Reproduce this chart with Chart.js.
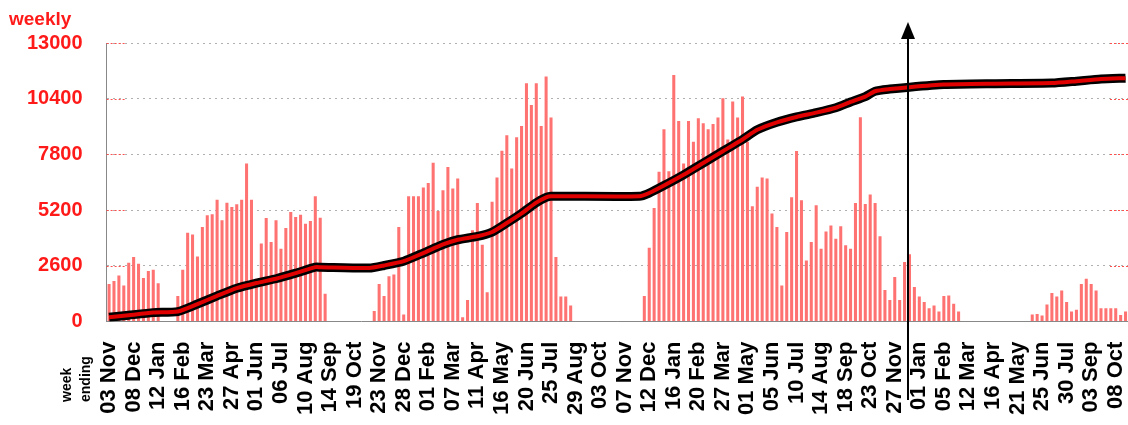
<!DOCTYPE html>
<html>
<head>
<meta charset="utf-8">
<script src="https://cdn.jsdelivr.net/npm/chart.js@4.4.1/dist/chart.umd.min.js"></script>
<style>
  html, body { margin: 0; padding: 0; background: #fff; }
  #wrap { width: 1128px; height: 425px; position: relative; }
</style>
</head>
<body>
<div id="wrap"><canvas id="chart"></canvas></div>
<script>
// one label every 5 weeks, first week ends 03 Nov
const tickLabels = [
  "03 Nov", "08 Dec", "12 Jan", "16 Feb", "23 Mar", "27 Apr", "01 Jun", "06 Jul",
  "10 Aug", "14 Sep", "19 Oct", "23 Nov", "28 Dec", "01 Feb", "07 Mar", "11 Apr",
  "16 May", "20 Jun", "25 Jul", "29 Aug", "03 Oct", "07 Nov", "12 Dec", "16 Jan",
  "20 Feb", "27 Mar", "01 May", "05 Jun", "10 Jul", "14 Aug", "18 Sep", "23 Oct",
  "27 Nov", "01 Jan", "05 Feb", "12 Mar", "16 Apr", "21 May", "25 Jun", "30 Jul",
  "03 Sep", "08 Oct"
];

// weekly values, one per week (208 weeks)
const weeklyCounts = [
  1760, 1890, 2150, 1690, 2750, 3010, 2700, 2040, 2360, 2420, 1790,
  0, 0, 0,
  1190, 2420, 4150, 4060, 3040, 4420, 4960, 5010, 5690, 4730, 5550, 5350, 5480, 5690,
  7380, 5690, 2000, 3640, 4840, 3710, 4730, 3400, 4370, 5120, 4880, 4990, 4570, 4700,
  5850, 4850, 1300,
  0, 0, 0, 0, 0, 0, 0, 0, 0,
  500, 1760, 1190, 2120, 2200, 4420, 330, 5850, 5850, 5850, 6260, 6470, 7410, 5160,
  6130, 7220, 6210, 6680, 200, 1010, 4260, 5540, 3590, 1370, 5590, 6720, 7970, 8690,
  7150, 8600, 9130, 11120, 10110, 11120, 9130, 11440, 9520, 3010, 1170, 1170, 750,
  0, 0, 0, 0, 0, 0, 0, 0, 0, 0, 0, 0, 0, 0,
  1190, 3450, 5300, 6990, 8970, 7020, 11510, 9360, 7380, 9360, 8390, 9490, 9250, 8970,
  9220, 9520, 10420, 8500, 10270, 9520, 10500, 8390, 5380, 6290, 6720, 6680, 5040, 4420,
  1690, 4180, 5800, 7960, 5660, 2850, 3710, 5430, 3400, 4210, 4490, 3870, 4450, 3560,
  3400, 5540, 9530, 5490, 5930,
  5540, 3980, 1480, 1010, 2080, 1010, 2780, 3140, 1610, 1170, 910, 620, 750, 470,
  1190, 1220, 830, 470,
  0, 0, 0, 0, 0, 0, 0, 0, 0, 0, 0, 0, 0, 0,
  330, 360, 280, 800, 1330, 1170, 1450, 910, 470, 550, 1760, 2000, 1760, 1450,
  620, 620, 620, 620, 310, 470
];

// cumulative line, read at these week numbers (shown on the same 0-13000 frame)
const cumulativeWeeks = [
  0, 4, 9, 14, 18, 22, 26, 30, 34, 38, 42, 43, 53, 56, 60, 64, 68, 71, 75, 78,
  81, 84, 87, 89, 90, 108, 110, 113, 117, 121, 125, 129, 132, 136, 140, 144, 148,
  151, 154, 156, 159, 163, 170, 180, 192, 197, 202, 207
];
const cumulativeValues = [
  200, 300, 420, 470, 820, 1200, 1560, 1800, 2000, 2260, 2540, 2540, 2500, 2620,
  2820, 3200, 3600, 3820, 3980, 4180, 4600, 5050, 5550, 5800, 5850, 5850, 6000,
  6350, 6850, 7400, 7950, 8500, 8950, 9300, 9550, 9750, 9980, 10250, 10500, 10750,
  10850, 10940, 11060, 11100, 11130, 11220, 11320, 11360
];

// week where the arrow is drawn
const markerWeek = 162.6;

const weekLabels = weeklyCounts.map((v, i) => (i % 5 === 0 ? tickLabels[i / 5] || "" : ""));
const cumulative = weeklyCounts.map(() => null);
cumulativeWeeks.forEach((w, k) => { cumulative[w] = cumulativeValues[k]; });

const FONT = "'Liberation Sans', Arial, Helvetica, sans-serif";

const extras = {
  id: "extras",
  beforeDatasetsDraw(chart) {
    const { ctx, chartArea, scales } = chart;
    ctx.save();
    ctx.strokeStyle = "#ff5050";
    ctx.lineWidth = 1;
    ctx.setLineDash([2, 2]);
    scales.y.ticks.forEach((t) => {
      if (t.value === 0) return;
      const y = Math.round(scales.y.getPixelForValue(t.value)) + 0.5;
      ctx.beginPath();
      ctx.moveTo(chartArea.left, y);
      ctx.lineTo(chartArea.left + 18, y);
      ctx.moveTo(chartArea.right - 18, y);
      ctx.lineTo(chartArea.right, y);
      ctx.stroke();
    });
    ctx.restore();
  },
  afterDraw(chart) {
    const { ctx, scales } = chart;
    ctx.save();
    // "weekly" unit label
    ctx.fillStyle = "#ff1a1a";
    ctx.font = "bold 19px " + FONT;
    ctx.textBaseline = "alphabetic";
    ctx.fillText("weekly", 9, 25);

    // "week ending" rotated caption
    ctx.fillStyle = "#000";
    ctx.font = "bold 14px " + FONT;
    ctx.textAlign = "left";
    [["week", 71], ["ending", 90]].forEach(([txt, x]) => {
      ctx.save();
      ctx.translate(x, 402);
      ctx.rotate(-Math.PI / 2);
      ctx.fillText(txt, 0, 0);
      ctx.restore();
    });

    // arrow
    const w0 = Math.floor(markerWeek);
    const p0 = scales.x.getPixelForValue(w0);
    const p1 = scales.x.getPixelForValue(w0 + 1);
    const ax = Math.round(p0 + (p1 - p0) * (markerWeek - w0));
    ctx.strokeStyle = "#000";
    ctx.lineWidth = 2;
    ctx.beginPath();
    ctx.moveTo(ax, 36);
    ctx.lineTo(ax, 400);
    ctx.stroke();
    ctx.fillStyle = "#000";
    ctx.beginPath();
    ctx.moveTo(ax, 22);
    ctx.lineTo(ax - 7, 39);
    ctx.lineTo(ax + 7, 39);
    ctx.closePath();
    ctx.fill();
    ctx.restore();
  }
};

new Chart(document.getElementById("chart"), {
  type: "bar",
  data: {
    labels: weekLabels,
    datasets: [
      {
        label: "weekly",
        data: weeklyCounts,
        backgroundColor: "#ff7272",
        borderWidth: 0,
        barPercentage: 0.62,
        categoryPercentage: 1.0,
        order: 3
      },
      {
        type: "line",
        label: "cumulative outline",
        data: cumulative,
        yAxisID: "y2",
        borderColor: "#000",
        borderWidth: 9,
        pointRadius: 0,
        spanGaps: true,
        tension: 0.2,
        order: 2
      },
      {
        type: "line",
        label: "cumulative",
        data: cumulative,
        yAxisID: "y2",
        borderColor: "#e00000",
        borderWidth: 4,
        pointRadius: 0,
        spanGaps: true,
        tension: 0.2,
        order: 1
      }
    ]
  },
  options: {
    responsive: true,
    maintainAspectRatio: false,
    animation: false,
    layout: { padding: { left: 3, top: 43, right: 0, bottom: -2 } },
    plugins: {
      legend: { display: false },
      tooltip: { enabled: false }
    },
    scales: {
      x: {
        offset: true,
        grid: { display: false },
        border: { display: true, color: "#888", width: 1 },
        afterFit(scale) {
          scale.paddingLeft = 0;
          scale.paddingRight = 0;
        },
        ticks: {
          autoSkip: false,
          maxRotation: 90,
          minRotation: 90,
          padding: 12,
          color: "#000",
          font: { family: FONT, size: 22, weight: "bold" }
        }
      },
      y: {
        min: 0,
        max: 13000,
        ticks: {
          stepSize: 2600,
          padding: 24,
          color: "#ff1a1a",
          font: { family: FONT, size: 20, weight: "bold" },
          callback: (v) => String(v)
        },
        grid: { color: "#b0b0b0", lineWidth: 1, drawTicks: false },
        border: { display: true, color: "#888", width: 1, dash: [2, 4] }
      },
      y2: {
        display: false,
        min: 0,
        max: 13000
      }
    }
  },
  plugins: [extras]
});
</script>
</body>
</html>
